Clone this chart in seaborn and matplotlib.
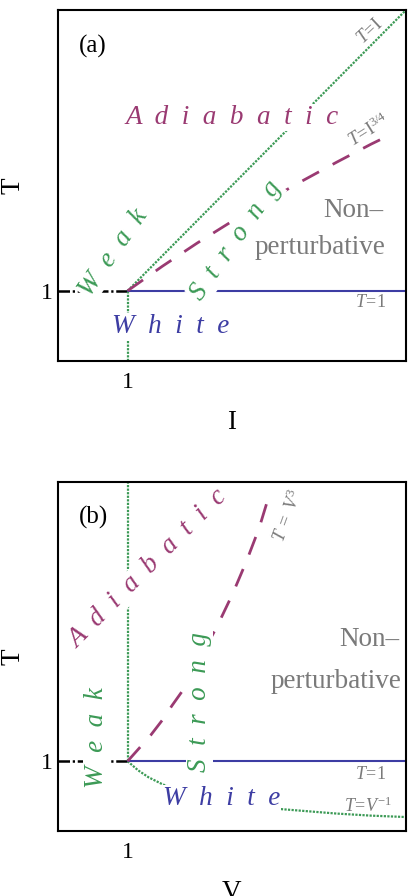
import numpy as np
import pandas as pd
import matplotlib
matplotlib.use("Agg")
import matplotlib.pyplot as plt
import seaborn as sns

# ---------------- data (linear axes 0..5) ----------------
# panel (a)
a_ti_I = [1.0, 5.0]                      # T = I boundary (dotted green)
a_ti_T = [1.0, 5.0]
a_t34_I = [1.0, 1.5, 2.0, 2.5, 3.0, 3.5, 4.0, 4.5, 4.79]   # T = I^{3/4} (dashed purple)
a_t34_T = [1.0, 1.35, 1.68, 1.99, 2.28, 2.56, 2.83, 3.09, 3.23]
a_t1_I = [1.0, 5.0]                      # T = 1 (solid blue)
a_t1_T = [1.0, 1.0]
a_weak_I = [0.0, 1.0]                    # dash-dot black
a_weak_T = [1.0, 1.0]
a_vert_I = [1.0, 1.0]                    # vertical dotted green below 1
a_vert_T = [0.0, 1.0]

# panel (b)
b_vert_V = [1.0, 1.0]                    # vertical dotted green above 1
b_vert_T = [1.0, 5.0]
b_inv_V = [1.0, 1.15, 1.3, 1.5, 1.75, 2.0, 2.5, 3.0, 3.5, 4.0, 4.5, 5.0]   # T = V^{-1}
b_inv_T = [1.0, 0.87, 0.77, 0.67, 0.57, 0.5, 0.4, 0.33, 0.29, 0.25, 0.22, 0.2]
b_v3_V = [1.0, 1.17, 1.33, 1.5, 1.64, 1.79, 2.0, 2.29, 2.51, 2.71, 2.89, 3.04]  # T = V^3
b_v3_T = [1.0, 1.19, 1.37, 1.59, 1.8, 2.01, 2.4, 2.94, 3.4, 3.87, 4.34, 4.83]
b_t1_V = [1.0, 5.0]
b_t1_T = [1.0, 1.0]
b_weak_V = [0.0, 1.0]
b_weak_T = [1.0, 1.0]

tick_vals = [1]
tick_labels = ["1"]
xlabels = ["I", "V"]
panel_tags = ["(a)", "(b)"]

GREEN = "#3c9a56"
PURPLE = "#9a3a72"
BLUE = "#3d3da3"
GRAY = "#7a7a7a"

sns.set_theme(style="white")
plt.rcParams["font.family"] = ["Liberation Serif", "DejaVu Serif"]
plt.rcParams["mathtext.fontset"] = "custom"
plt.rcParams["mathtext.rm"] = "Liberation Serif"
plt.rcParams["mathtext.it"] = "Liberation Serif:italic"
plt.rcParams["mathtext.bf"] = "Liberation Serif:bold"

fig = plt.figure(figsize=(4.08, 8.96), dpi=100)
fig.patch.set_facecolor("white")
axA = fig.add_axes([58/408, (896-361)/896, 348/408, 351/896])
axB = fig.add_axes([58/408, (896-831)/896, 348/408, 349/896])

DOT = (0, (1.0, 0.6))
DASH = (0, (6.8, 5.6))
DASHDOT = (0, (4.6, 1.1, 0.9, 1.1))


def line(ax, x, y, color, ls, lw):
    sns.lineplot(x=x, y=y, ax=ax, color=color, linestyle=ls, linewidth=lw,
                 estimator=None, sort=False, zorder=2)


line(axA, a_weak_I, a_weak_T, "black", DASHDOT, 1.8)
line(axA, a_vert_I, a_vert_T, GREEN, DOT, 1.6)
line(axA, a_ti_I, a_ti_T, GREEN, DOT, 1.6)
line(axA, a_t1_I, a_t1_T, BLUE, "-", 1.5)
line(axA, a_t34_I, a_t34_T, PURPLE, DASH, 2.0)

line(axB, b_weak_V, b_weak_T, "black", DASHDOT, 1.8)
line(axB, b_vert_V, b_vert_T, GREEN, DOT, 1.6)
line(axB, b_inv_V, b_inv_T, GREEN, DOT, 1.6)
line(axB, b_t1_V, b_t1_T, BLUE, "-", 1.5)
line(axB, b_v3_V, b_v3_T, PURPLE, DASH, 2.0)

BIG = 19.5
SMALL = 13
box = dict(boxstyle="square,pad=0.03", fc="white", ec="none")


def region(ax, x, y, word, color, rot):
    ax.text(x, y, "  ".join(word), color=color, fontsize=BIG, style="italic",
            rotation=rot, rotation_mode="anchor", ha="center", va="baseline",
            bbox=box, zorder=5)


# panel (a) labels
region(axA, 2.507, 3.376, "Adiabatic", PURPLE, 0)
region(axA, 0.87, 1.48, "Weak", GREEN, 55)
region(axA, 2.63, 1.66, "Strong", GREEN, 55)
region(axA, 1.614, 0.399, "White", BLUE, 0)
axA.text(4.68, 2.05, "Non–", color=GRAY, fontsize=BIG, ha="right", va="baseline")
axA.text(4.70, 1.524, "perturbative", color=GRAY, fontsize=BIG, ha="right", va="baseline")
axA.text(4.48, 4.70, r"$T\!=\!\mathrm{I}$", color=GRAY, fontsize=SMALL, rotation=43,
         rotation_mode="anchor", ha="center", va="center")
axA.text(4.47, 3.28, r"$T\!=\!\mathrm{I}^{3/4}$", color=GRAY, fontsize=SMALL, rotation=32,
         rotation_mode="anchor", ha="center", va="center")
axA.text(4.49, 0.84, r"$T\!=\!\mathrm{1}$", color=GRAY, fontsize=SMALL,
         ha="center", va="center")

# panel (b) labels
region(axB, 1.36, 3.69, "Adiabatic", PURPLE, 45)
region(axB, 0.643, 1.343, "Weak", GREEN, 90)
region(axB, 2.13, 1.85, "Strong", GREEN, 90)
region(axB, 2.35, 0.371, "White", BLUE, 0)
axB.text(4.90, 2.657, "Non–", color=GRAY, fontsize=BIG, ha="right", va="baseline")
axB.text(4.93, 2.043, "perturbative", color=GRAY, fontsize=BIG, ha="right", va="baseline")
axB.text(3.30, 4.51, r"$T\ =\ V^{3}$", color=GRAY, fontsize=SMALL, rotation=70,
         rotation_mode="anchor", ha="center", va="center")
axB.text(4.49, 0.81, r"$T\!=\!\mathrm{1}$", color=GRAY, fontsize=SMALL,
         ha="center", va="center")
axB.text(4.46, 0.36, r"$T\!=\!V^{-1}$", color=GRAY, fontsize=SMALL,
         ha="center", va="center")

for ax, xl, tag in zip([axA, axB], xlabels, panel_tags):
    ax.set_xlim(0, 5)
    ax.set_ylim(0, 5)
    ax.set_xticks(tick_vals)
    ax.set_xticklabels(tick_labels)
    ax.set_yticks(tick_vals)
    ax.set_yticklabels(tick_labels)
    ax.tick_params(axis="both", direction="in", length=3, width=1.2, color="black",
                   labelsize=17, labelcolor="black")
    ax.tick_params(axis="x", pad=8)
    ax.tick_params(axis="y", pad=4)
    ax.set_xlabel(xl, fontsize=19.5, color="black", labelpad=12)
    ax.set_ylabel("T", fontsize=19.5, color="black", labelpad=11)
    for s in ax.spines.values():
        s.set_visible(True)
        s.set_color("black")
        s.set_linewidth(1.5)
    ax.set_facecolor("white")
    ax.grid(False)
    ax.text(0.3, 4.4 if tag == "(a)" else 4.41, tag, fontsize=18, color="black",
            ha="left", va="baseline")

fig.savefig("out.png", dpi=100, facecolor="white")
